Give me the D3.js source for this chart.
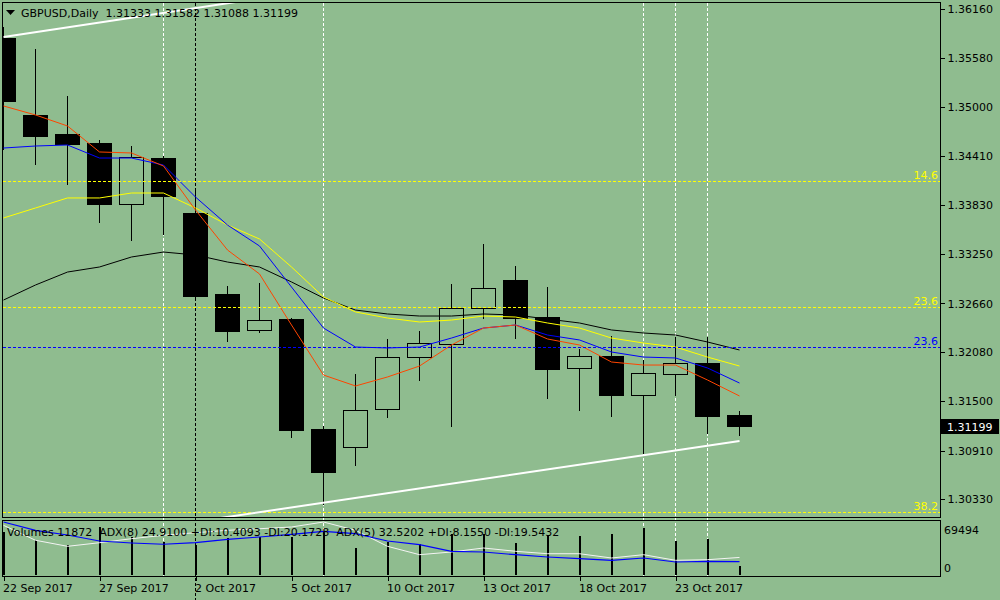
<!DOCTYPE html>
<html><head><meta charset="utf-8">
<script src="https://cdn.jsdelivr.net/npm/d3@7/dist/d3.min.js"></script>
<style>
html,body{margin:0;padding:0;background:#8fbc8f;overflow:hidden;}
svg{display:block;font-family:"DejaVu Sans",sans-serif;font-size:11px;}
text{white-space:pre;}
</style></head><body>
<svg id="chart" width="1000" height="600"></svg>
<script>
// ---------- data ----------
const dates = ["22 Sep 2017","25 Sep 2017","26 Sep 2017","27 Sep 2017","28 Sep 2017","29 Sep 2017",
  "2 Oct 2017","3 Oct 2017","4 Oct 2017","5 Oct 2017","6 Oct 2017","9 Oct 2017","10 Oct 2017",
  "11 Oct 2017","12 Oct 2017","13 Oct 2017","16 Oct 2017","17 Oct 2017","18 Oct 2017","19 Oct 2017",
  "20 Oct 2017","23 Oct 2017","24 Oct 2017","25 Oct 2017"];
const dateTickIdx = [0,3,6,9,12,15,18,21];

const open  = [1.35806,1.34890,1.34664,1.34557,1.33843,1.34390,1.33736,1.32761,1.32333,1.32464,1.31167,1.30953,1.31405,1.32012,1.32178,1.32606,1.32939,1.32499,1.31881,1.32035,1.31560,1.31821,1.31952,1.31333];
const high  = [1.35948,1.35687,1.35128,1.34604,1.34533,1.34412,1.34034,1.32868,1.32904,1.32487,1.31203,1.31821,1.32238,1.32333,1.32892,1.33367,1.33106,1.32856,1.32119,1.32273,1.31988,1.32261,1.32261,1.31381];
const low   = [1.34485,1.34307,1.34069,1.33617,1.33403,1.33475,1.32701,1.32202,1.32309,1.31060,1.30263,1.30727,1.31298,1.31738,1.31191,1.32475,1.32238,1.31524,1.31381,1.31310,1.30870,1.31560,1.31108,1.31088];
const close = [1.35068,1.34644,1.34548,1.33835,1.34402,1.33938,1.32749,1.32321,1.32452,1.31155,1.30644,1.31393,1.32012,1.32190,1.32606,1.32844,1.32487,1.31869,1.32035,1.31560,1.31833,1.31952,1.31310,1.31199];

const maRed    = [1.35009,1.34902,1.34771,1.34462,1.34450,1.34295,1.33772,1.33296,1.33011,1.32404,1.31809,1.31679,1.31786,1.31916,1.32166,1.32368,1.32404,1.32238,1.32166,1.31964,1.31928,1.31928,1.31750,1.31560];
const maBlue   = [1.34509,1.34533,1.34545,1.34390,1.34390,1.34307,1.33926,1.33593,1.33344,1.32856,1.32368,1.32142,1.32131,1.32142,1.32249,1.32368,1.32404,1.32285,1.32226,1.32083,1.32023,1.32012,1.31893,1.31714];
const maYellow = [1.33677,1.33796,1.33915,1.33915,1.33974,1.33974,1.33796,1.33593,1.33427,1.33094,1.32737,1.32559,1.32487,1.32440,1.32463,1.32511,1.32499,1.32428,1.32368,1.32249,1.32190,1.32142,1.32023,1.31916];
const maBlack  = [1.32701,1.32880,1.33034,1.33094,1.33213,1.33272,1.33237,1.33153,1.33094,1.32916,1.32725,1.32582,1.32535,1.32511,1.32511,1.32535,1.32523,1.32475,1.32428,1.32345,1.32309,1.32285,1.32202,1.32107];

const volumes = [55000,45000,38600,61800,48900,42500,38600,47600,48900,48900,55300,34700,42500,39900,52800,52800,41200,51500,50200,52800,60500,43800,46300,11872];
const adx8 = [98.1,82.8,74.1,63.0,59.3,56.9,59.8,66.1,70.4,75.4,80.9,76.5,63.0,56.1,43.9,42.6,37.6,33.3,30.2,27.2,31.5,24.1,25.4,24.91];
const adx5 = [92.0,64.3,53.1,59.8,67.2,73.5,78.3,82.8,85.7,88.9,98.1,82.8,53.1,37.6,42.6,50.0,43.9,39.4,39.4,31.5,37.6,27.2,28.3,32.52];

const priceTicks = [1.36160,1.35580,1.35000,1.34410,1.33830,1.33250,1.32660,1.32080,1.31500,1.30910,1.30330];
const volTicks = [69494, 0];
const lastPrice = 1.31199;

// fibonacci levels
const fibLabels = ["14.6","23.6","38.2","23.6"];
const fibPrices = [1.34113,1.32615,1.30176,1.32139];
const fibColors = ["#ffff00","#ffff00","#ffff00","#0000ff"];

// trend channel lines: [barIndex, price]
const trendTop    = [[0,1.35829],[8,1.36288]];
const trendBottom = [[6,1.30065],[23,1.31024]];

// vertical markers (bar indexes)
const whiteVLines = [5,10,20,21,22];
const separatorIdx = [6];

const titleText = "GBPUSD,Daily  1.31333 1.31582 1.31088 1.31199";
const subTitle  = "Volumes 11872  ADX(8) 24.9100 +DI:10.4093 -DI:20.1728  ADX(5) 32.5202 +DI:8.1550 -DI:19.5432";

// ---------- layout ----------
const BG = "#8fbc8f";
const L = 2.5, R = 940.5, MT = 2.5, MB = 517.5, ST = 520.5, SB = 576.5;
const svg = d3.select("#chart");
svg.append("rect").attr("width",1000).attr("height",600).attr("fill",BG);

const x = d3.scaleLinear().domain([0,23]).range([3.5,739.5]);
const y = d3.scaleLinear().domain([1.30330,1.36160]).range([499.4,9.2]);
const yv = d3.scaleLinear().domain([0,69494]).range([575,521]);
const ya = d3.scaleLinear().domain([0,100]).range([575,521]);

const defs = svg.append("defs");
defs.append("clipPath").attr("id","cm").append("rect").attr("x",3).attr("y",3).attr("width",937).attr("height",514);
defs.append("clipPath").attr("id","cs").append("rect").attr("x",3).attr("y",521).attr("width",937).attr("height",55);

// background markers (behind everything)
const back = svg.append("g");
back.selectAll("line.w").data(whiteVLines).join("line").attr("class","w")
  .attr("x1",d=>x(d)).attr("x2",d=>x(d)).attr("y1",3).attr("y2",576)
  .attr("stroke","#ffffff").attr("stroke-dasharray","3,2").attr("shape-rendering","crispEdges");
back.selectAll("line.s").data(separatorIdx).join("line").attr("class","s")
  .attr("x1",d=>x(d)).attr("x2",d=>x(d)).attr("y1",3).attr("y2",600)
  .attr("stroke","#000").attr("stroke-dasharray","3,2").attr("shape-rendering","crispEdges");

const main = svg.append("g").attr("clip-path","url(#cm)");
const sub = svg.append("g").attr("clip-path","url(#cs)");

// candles
const idx = d3.range(dates.length);
main.append("g").selectAll("line").data(idx).join("line")
  .attr("x1",i=>x(i)).attr("x2",i=>x(i)).attr("y1",i=>y(high[i])).attr("y2",i=>y(low[i]))
  .attr("stroke","#000").attr("shape-rendering","crispEdges");
main.append("g").selectAll("rect").data(idx).join("rect")
  .attr("x",i=>x(i)-12).attr("width",24)
  .attr("y",i=>y(Math.max(open[i],close[i])))
  .attr("height",i=>Math.max(1,Math.abs(y(open[i])-y(close[i]))))
  .attr("fill",i=>close[i]<open[i]?"#000":BG)
  .attr("stroke","#000").attr("shape-rendering","crispEdges");

// moving averages
const lineGen = arr => d3.line().x((d,i)=>x(i)).y(d=>y(d))(arr);
[[maBlack,"#000000"],[maYellow,"#ffff00"],[maBlue,"#0000ff"],[maRed,"#ff4500"]].forEach(([arr,c])=>{
  main.append("path").attr("d",lineGen(arr)).attr("fill","none").attr("stroke",c).attr("stroke-width",1);
});

// fibonacci levels
main.append("g").selectAll("line").data(fibPrices).join("line")
  .attr("x1",3).attr("x2",940).attr("y1",d=>Math.round(y(d))+0.5).attr("y2",d=>Math.round(y(d))+0.5)
  .attr("stroke",(d,i)=>fibColors[i]).attr("stroke-dasharray","3,2").attr("shape-rendering","crispEdges");
svg.append("g").selectAll("text").data(fibPrices).join("text")
  .attr("x",938).attr("y",d=>Math.round(y(d))-2).attr("text-anchor","end")
  .attr("fill",(d,i)=>fibColors[i]).text((d,i)=>fibLabels[i]);

// trend channel
const tl = d3.line().x(d=>x(d[0])).y(d=>y(d[1]));
[trendTop,trendBottom].forEach(t=>{
  main.append("path").attr("d",tl(t)).attr("fill","none").attr("stroke","#fff").attr("stroke-width",2);
});

// sub window: volumes + ADX
sub.append("g").selectAll("line").data(idx).join("line")
  .attr("x1",i=>x(i)+0.5).attr("x2",i=>x(i)+0.5).attr("y1",yv(0)).attr("y2",i=>yv(volumes[i]))
  .attr("stroke","#000").attr("stroke-width",2).attr("shape-rendering","crispEdges");
const adxLine = d3.line().x((d,i)=>x(i)).y(d=>ya(d));
sub.append("path").attr("d",adxLine(adx5)).attr("fill","none").attr("stroke","#f4f4f4").attr("stroke-width",1);
sub.append("path").attr("d",adxLine(adx8)).attr("fill","none").attr("stroke","#0000ff").attr("stroke-width",1.2);

// frames
svg.append("rect").attr("x",L).attr("y",MT).attr("width",R-L).attr("height",MB-MT)
  .attr("fill","none").attr("stroke","#000").attr("shape-rendering","crispEdges");
svg.append("rect").attr("x",L).attr("y",ST).attr("width",R-L).attr("height",SB-ST)
  .attr("fill","none").attr("stroke","#000").attr("shape-rendering","crispEdges");

// price axis
const ax = svg.append("g").attr("transform",`translate(${R},0)`)
  .call(d3.axisRight(y).tickValues(priceTicks).tickSize(4).tickFormat(d3.format(".5f")));
ax.select(".domain").remove();
ax.selectAll("line").attr("stroke","#000").attr("shape-rendering","crispEdges");
ax.selectAll("text").attr("fill","#000").attr("font-family","DejaVu Sans").attr("font-size",11).attr("x",7);

// current price marker
const ly = y(lastPrice);
svg.append("rect").attr("x",941).attr("y",Math.round(ly)-7).attr("width",58).attr("height",15).attr("fill","#000");
svg.append("text").attr("x",947).attr("y",Math.round(ly)+4.5).attr("fill","#ffffff").text(d3.format(".5f")(lastPrice));

// volume axis labels
svg.append("g").selectAll("text").data(volTicks).join("text")
  .attr("x",944).attr("y",d=>d>0?yv(d)+13:yv(d)-3).attr("fill","#000").text(d=>d);

// date axis
const dx = svg.append("g").attr("transform",`translate(0,${SB})`)
  .call(d3.axisBottom(x).tickValues(dateTickIdx).tickSize(4).tickFormat(i=>dates[i]));
dx.select(".domain").remove();
dx.selectAll("line").attr("stroke","#000").attr("shape-rendering","crispEdges");
dx.selectAll("text").attr("fill","#000").attr("font-family","DejaVu Sans").attr("font-size",11)
  .attr("text-anchor","start").attr("x",-1).attr("y",8);

// titles
svg.append("path").attr("d","M6,10 L15,10 L10.5,15 Z").attr("fill","#000");
svg.append("text").attr("x",21).attr("y",17).attr("fill","#000").text(titleText);
svg.append("text").attr("x",7).attr("y",536).attr("fill","#000").text(subTitle);
</script>
</body></html>
